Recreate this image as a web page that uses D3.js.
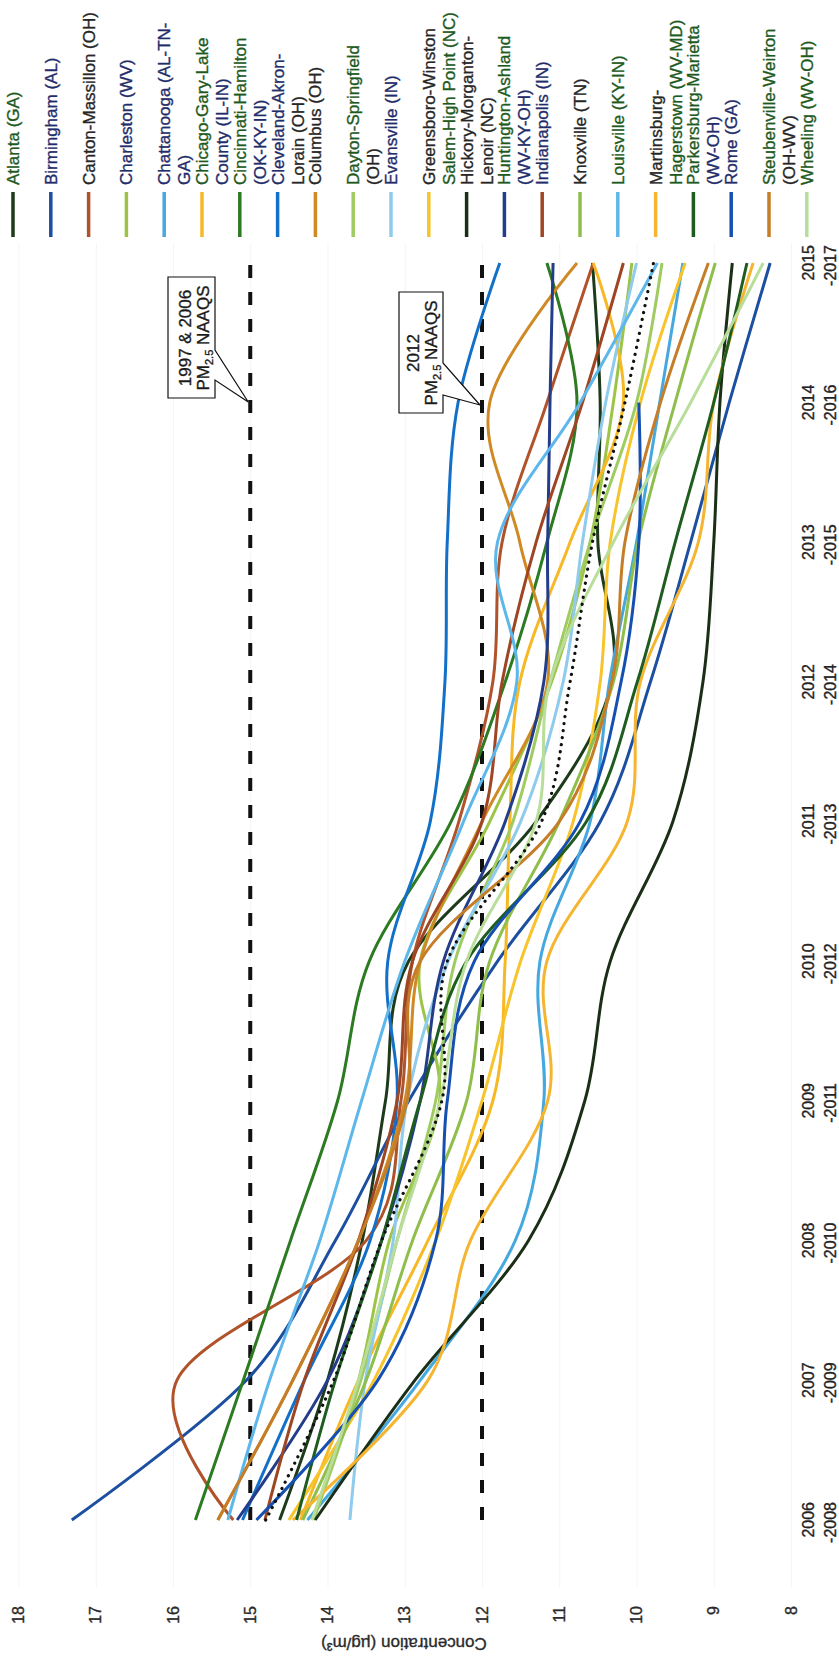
<!DOCTYPE html>
<html>
<head>
<meta charset="utf-8">
<script src="https://cdn.jsdelivr.net/npm/d3@7"></script>
<style>
  body { margin: 0; background: #fff; }
  svg { display: block; }
  text { font-family: "Liberation Sans", Arial, sans-serif; stroke-width: 0.35px; }
</style>
</head>
<body>
<svg id="chart" width="839" height="1663"></svg>
<script>
var years = ['2006-2008', '2007-2009', '2008-2010', '2009-2011', '2010-2012',
  '2011-2013', '2012-2014', '2013-2015', '2014-2016', '2015-2017'];
var concTicks = [8, 9, 10, 11, 12, 13, 14, 15, 16, 17, 18];
var standards = [15, 12];

var cities = ['Atlanta', 'Birmingham', 'Canton-Massillon', 'Charleston', 'Chattanooga',
  'Chicago', 'Cincinnati', 'Cleveland', 'Columbus', 'Dayton', 'Evansville', 'Greensboro',
  'Hickory', 'Huntington', 'Indianapolis', 'Knoxville', 'Louisville', 'Martinsburg',
  'Parkersburg', 'Rome', 'Steubenville', 'Wheeling'];

// legend text, wrapped the way the original legend wraps it
var legendLabels = [
  ['Atlanta (GA)'], ['Birmingham (AL)'], ['Canton-Massillon (OH)'], ['Charleston (WV)'],
  ['Chattanooga (AL-TN-', 'GA)'], ['Chicago-Gary-Lake', 'County (IL-IN)'],
  ['Cincinnati-Hamilton', '(OK-KY-IN)'], ['Cleveland-Akron-', 'Lorain (OH)'],
  ['Columbus (OH)'], ['Dayton-Springfield', '(OH)'], ['Evansville (IN)'],
  ['Greensboro-Winston', 'Salem-High Point (NC)'], ['Hickory-Morganton-', 'Lenoir (NC)'],
  ['Huntington-Ashland', '(WV-KY-OH)'], ['Indianapolis (IN)'], ['Knoxville (TN)'],
  ['Louisville (KY-IN)'], ['Martinsburg-', 'Hagerstown (WV-MD)'],
  ['Parkersburg-Marietta', '(WV-OH)'], ['Rome (GA)'], ['Steubenville-Weirton', '(OH-WV)'],
  ['Wheeling (WV-OH)']
];

var lineColors = ['#1d3b1a', '#1c4fa0', '#b0532b', '#9dc447', '#45a8df', '#f6b824',
  '#2c7a22', '#1370c8', '#d08a25', '#9fcb61', '#8fcbec', '#f8c42c', '#1b2f17', '#233d8a',
  '#9e4524', '#8fbe4c', '#5db7ea', '#f5b531', '#1f5c1f', '#1550b0', '#c57d27', '#b9dd9a'];

var green = '#1e5a1e', navy = '#1f2d6b', dark = '#262626';
var legendTextColors = [
  [green], [navy], [dark], [navy], [navy, navy], [green, navy], [green, navy], [navy, dark],
  [dark], [green, dark], [navy], [dark, green], [dark, dark], [green, navy], [navy], [dark],
  [green], [dark, green], [green, navy], [navy], [green, dark], [green]
];

// 3-year design values, ug/m3
var atlanta      = [14.62, 14.00, 13.55, 13.25, 12.95, 11.30, 10.32, 10.50, 10.47, 10.57];
var birmingham   = [17.31, 15.05, 13.90, 12.95, 11.80, 10.47, 9.82, 9.30, 8.80, 8.27];
var canton       = [15.22, 15.95, 13.50, 13.05, 12.90, 12.30, 11.86, 11.74, 11.16, 10.56];
var charleston   = [14.20, 13.60, 13.20, 12.55, 12.80, 11.90, 11.10, 10.60, 10.30, 10.06];
var chattanooga  = [14.26, 12.80, 11.57, 11.20, 11.25, 10.60, 10.35, 10.00, 9.70, 9.40];
var chicago      = [14.35, 13.60, 12.70, 11.86, 11.70, 11.64, 11.51, 10.86, 10.17, 10.56];
var cincinnati   = [15.71, 15.09, 14.48, 13.87, 13.46, 12.40, 11.70, 11.16, 10.77, 11.16];
var cleveland    = [15.10, 14.30, 13.45, 13.10, 13.22, 12.67, 12.48, 12.45, 12.31, 11.77];
var columbus     = [15.42, 14.45, 13.60, 13.00, 12.80, 12.00, 11.15, 11.51, 11.90, 10.77];
var dayton       = [14.18, 13.57, 13.10, 12.60, 12.35, 11.60, 11.12, 10.60, 10.00, 9.67];
var evansville   = [13.71, 13.51, 13.15, 12.97, 12.44, 11.50, 10.95, 10.70, 10.40, 10.00];
var greensboro   = [14.50, 13.40, 12.60, 12.00, 11.50, 10.82, 10.47, 10.34, 9.95, 9.37];
var hickory      = [14.16, 12.87, 11.40, 10.67, 10.34, 9.53, 9.14, 9.00, 8.92, 8.76];
var huntington   = [15.17, 14.00, 13.30, 12.80, 12.50, 11.70, 11.20, 11.15, 11.12, 11.08];
var indianapolis = [14.81, 14.30, 13.60, 13.10, 12.90, 12.00, 11.74, 11.30, 10.70, 10.17];
var knoxville    = [14.32, 13.50, 12.90, 12.20, 11.90, 11.00, 10.30, 9.98, 9.50, 8.98];
var louisville   = [15.29, 14.75, 14.10, 13.56, 13.00, 12.24, 11.55, 11.80, 10.73, 9.73];
var martinsburg  = [14.45, 12.70, 12.15, 11.15, 11.16, 10.12, 9.95, 9.20, 9.00, 8.49];
var parkersburg  = [14.40, 13.90, 13.30, 12.80, 12.20, 10.65, 9.99, 9.50, 9.00, 8.57];
var rome         = [14.92, 13.35, 12.60, 12.45, 12.10, 10.73, 10.20, 9.97, 9.97, null];
var steubenville = [15.42, 14.45, 13.60, 12.97, 12.80, 11.00, 10.32, 10.15, 9.69, 9.07];
var wheeling     = [14.20, 13.60, 13.10, 12.54, 12.20, 11.30, 11.12, 10.30, 9.30, 8.36];
var average      = [14.80, 13.92, 13.30, 12.52, 12.45, 11.23, 10.86, 10.57, 10.15, 9.78];

var seriesValues = [atlanta, birmingham, canton, charleston, chattanooga, chicago,
  cincinnati, cleveland, columbus, dayton, evansville, greensboro, hickory, huntington,
  indianapolis, knoxville, louisville, martinsburg, parkersburg, rome, steubenville, wheeling];

var series = cities.map(function(c, i) {
  return { name: c, values: seriesValues[i], color: lineColors[i], label: legendLabels[i], textColors: legendTextColors[i] };
});

var svg = d3.select('#chart');
var svgHeight = +svg.attr('height');

// the chart is laid out landscape (1663 x 839) and turned a quarter to the left
var chartG = svg.append('g')
  .attr('transform', 'translate(0,' + svgHeight + ') rotate(-90)');

var xScale = d3.scalePoint().domain(years).range([143, 1400]);
var yScale = d3.scaleLinear().domain([8, 18]).range([791, 18.5]);

// faint gridlines
var gridG = chartG.append('g')
  .attr('transform', 'translate(76,0)')
  .call(d3.axisLeft(yScale).tickValues(concTicks).tickSize(-1344).tickFormat(''));
gridG.select('.domain').remove();
gridG.selectAll('line').attr('stroke', '#f5f5f5');

// y axis labels
var yAxisG = chartG.append('g')
  .attr('transform', 'translate(57,0)')
  .call(d3.axisLeft(yScale).tickValues(concTicks).tickSize(0).tickPadding(0));
yAxisG.select('.domain').remove();
yAxisG.attr('font-size', 16).attr('font-family', '"Liberation Sans", Arial, sans-serif');
yAxisG.selectAll('text').attr('fill', '#2a2a2a').attr('stroke', '#2a2a2a');

chartG.append('text')
  .attr('transform', 'translate(25,404) rotate(-90)')
  .attr('text-anchor', 'middle')
  .attr('font-size', 17)
  .attr('fill', '#2a2a2a')
  .attr('stroke', '#2a2a2a')
  .text('Concentration (µg/m³)');

// x axis labels, two lines each
var yearText = chartG.append('g').selectAll('text')
  .data(years)
  .enter()
  .append('text')
  .attr('text-anchor', 'end')
  .attr('font-size', 16)
  .attr('fill', '#222')
  .attr('stroke', '#222');
yearText.append('tspan')
  .attr('x', d => xScale(d) + 18).attr('y', 814)
  .text(d => d.split('-')[0]);
yearText.append('tspan')
  .attr('x', d => xScale(d) + 18).attr('y', 836)
  .text(d => '-' + d.split('-')[1]);

// NAAQS lines
chartG.append('g').selectAll('line')
  .data(standards)
  .enter()
  .append('line')
  .attr('x1', xScale(years[0]))
  .attr('x2', xScale(years[years.length - 1]))
  .attr('y1', d => yScale(d))
  .attr('y2', d => yScale(d))
  .attr('stroke', '#111')
  .attr('stroke-width', 4)
  .attr('stroke-dasharray', '13 14');

var line = d3.line()
  .defined(d => d != null)
  .x((d, i) => xScale(years[i]))
  .y(d => yScale(d))
  .curve(d3.curveCardinal.tension(0));

chartG.append('g').selectAll('path')
  .data(series)
  .enter()
  .append('path')
  .attr('d', d => line(d.values))
  .attr('fill', 'none')
  .attr('stroke', d => d.color)
  .attr('stroke-width', 3);

chartG.append('path')
  .attr('d', line(average))
  .attr('fill', 'none')
  .attr('stroke', '#111')
  .attr('stroke-width', 3.2)
  .attr('stroke-linecap', 'round')
  .attr('stroke-dasharray', '0.1 7');

// callouts
function callout(path, cx, cy, first) {
  var g = chartG.append('g');
  g.append('path')
    .attr('d', path)
    .attr('fill', '#fff')
    .attr('stroke', '#111')
    .attr('stroke-width', 1.2);
  g.append('text')
    .attr('text-anchor', 'middle')
    .attr('font-size', 17)
    .attr('fill', '#1a1a1a')
    .attr('stroke', '#1a1a1a')
    .attr('x', cx).attr('y', cy)
    .text(first);
  var t2 = g.append('text')
    .attr('text-anchor', 'middle')
    .attr('font-size', 17)
    .attr('fill', '#1a1a1a')
    .attr('stroke', '#1a1a1a')
    .attr('x', cx).attr('y', cy + 18);
  t2.append('tspan').text('PM');
  t2.append('tspan').attr('font-size', 11).attr('dy', 4).text('2.5');
  t2.append('tspan').attr('dy', -4).text(' NAAQS');
}
callout('M1265,168H1386V215H1313L1261,' + (yScale(15) - 2) + 'L1283,215H1265Z', 1325, 191, '1997 & 2006');
callout('M1250,399H1371V443H1300L1258,' + (yScale(12) - 2) + 'L1268,443H1250Z', 1310, 419, '2012');

// legend
var legendG = chartG.append('g');
var items = legendG.selectAll('g')
  .data(series)
  .enter()
  .append('g')
  .attr('transform', (d, i) => 'translate(0,' + (13 + 37.8 * i) + ')');
items.append('line')
  .attr('x1', 1426).attr('x2', 1471)
  .attr('stroke', d => d.color)
  .attr('stroke-width', 3.5);
items.each(function(d) {
  var g = d3.select(this);
  d.label.forEach(function(s, k) {
    g.append('text')
      .attr('x', 1478)
      .attr('y', 6 + k * 20)
      .attr('font-size', 17)
      .attr('fill', d.textColors[k])
      .attr('stroke', d.textColors[k])
      .text(s);
  });
});
</script>
</body>
</html>
